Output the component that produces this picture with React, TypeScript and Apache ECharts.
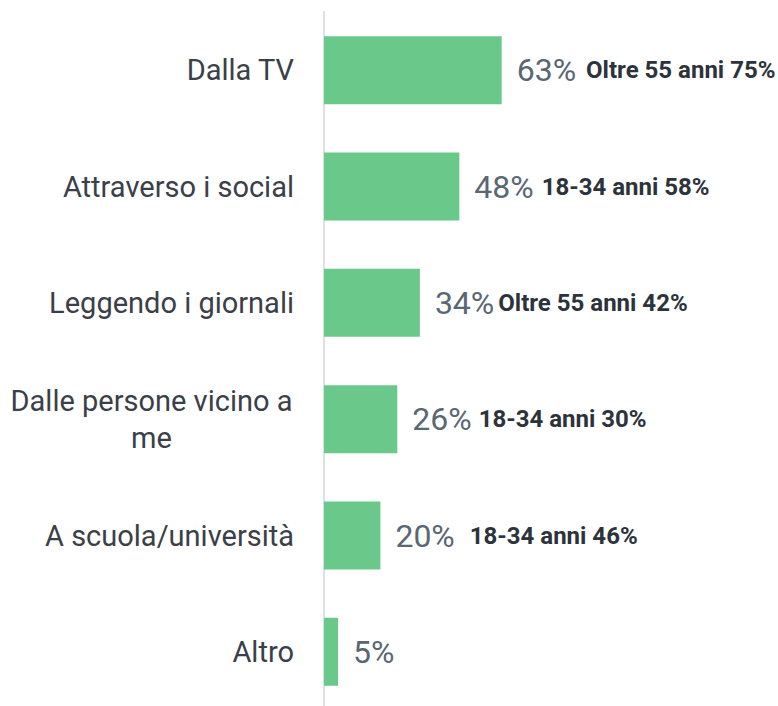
import React, { useEffect, useRef } from "react";
import * as echarts from "echarts";

const categories = [
  "Dalla TV",
  "Attraverso i social",
  "Leggendo i giornali",
  "Dalle persone vicino a me",
  "A scuola/università",
  "Altro",
];
const values = [63, 48, 34, 26, 20, 5];
const notes = [
  "Oltre 55 anni 75%",
  "18-34 anni 58%",
  "Oltre 55 anni 42%",
  "18-34 anni 30%",
  "18-34 anni 46%",
  "",
];
// spacing (px) between the main value and its note
const noteGaps = [10, 8, 4, 7, 15, 0];

const FONT = "Roboto, 'DejaVu Sans Condensed', sans-serif";

export default function App() {
  const ref = useRef<HTMLDivElement>(null);
  useEffect(() => {
    if (!ref.current) return;
    const chart = echarts.init(ref.current, null, { renderer: "svg" });
    chart.setOption({
      animation: false,
      backgroundColor: "#ffffff",
      grid: {
        left: 324,
        width: 282,
        top: 12,
        bottom: 10,
        containLabel: false,
        outerBoundsMode: "none",
      },
      xAxis: {
        type: "value",
        min: 0,
        max: 100,
        show: false,
      },
      yAxis: {
        type: "category",
        inverse: true,
        data: categories,
        axisLine: { show: true, lineStyle: { color: "#dde1e6", width: 2 } },
        axisTick: { show: false },
        axisLabel: {
          margin: 30,
          color: "#3b4048",
          fontFamily: FONT,
          fontSize: 29,
          formatter: (v: string) =>
            v === "Dalle persone vicino a me"
              ? "{c|Dalle persone vicino a}\n{c|me}"
              : v,
          rich: {
            c: {
              width: 285,
              align: "center",
              color: "#3b4048",
              fontFamily: FONT,
              fontSize: 29,
              lineHeight: 37,
            },
          },
        },
      },
      series: [
        {
          type: "bar",
          data: values,
          barWidth: 68,
          itemStyle: { color: "#6ac88b" },
          label: {
            show: true,
            position: "right",
            distance: 15,
            formatter: (p: any) => {
              const i = p.dataIndex;
              const main = `{v|${values[i]}%}`;
              return notes[i] ? `${main}{g${i}|}{n|${notes[i]}}` : main;
            },
            rich: {
              v: { fontFamily: FONT, fontSize: 32, color: "#5b6673", fontWeight: "normal" },
              n: { fontFamily: FONT, fontSize: 24, color: "#2d333b", fontWeight: "bold" },
              ...Object.fromEntries(noteGaps.map((g, i) => [`g${i}`, { width: g }])),
            },
          },
        },
      ],
    });
    return () => chart.dispose();
  }, []);
  return (
    <div
      ref={ref}
      style={{ position: "fixed", left: 0, top: 0, width: 778, height: 720 }}
    />
  );
}
